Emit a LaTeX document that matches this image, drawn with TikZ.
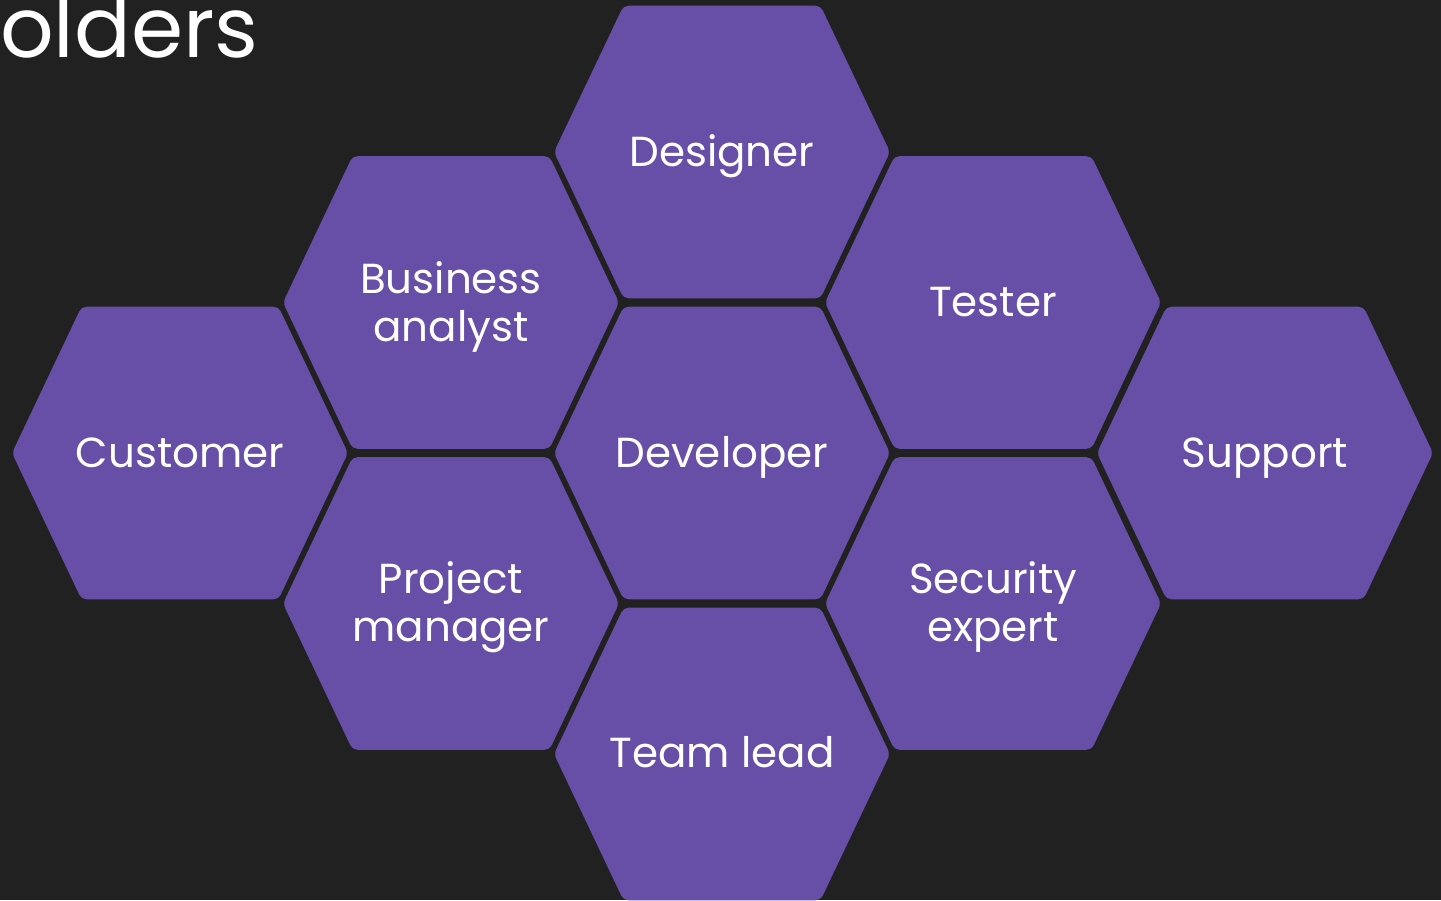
\documentclass[tikz,border=0pt]{standalone}
\usepackage{fontspec}
\setmainfont{Poppins}
\definecolor{bgc}{HTML}{212121}
\definecolor{hexc}{HTML}{674EA7}
\tikzset{
  hexcell/.style={fill=hexc, rounded corners=5pt},
  lbl/.style={text=white, font=\fontsize{42}{48}\selectfont, align=center, inner sep=0pt, anchor=base},
  ttl/.style={text=white, font=\fontsize{84}{90}\selectfont, inner sep=0pt, anchor=base west}
}
\newcommand\hexcellat[2]{%
  \fill[hexcell, shift={(#1,#2)}] (-168,0) -- (-98.5,-146.3) -- (98.5,-146.3) -- (168,0) -- (98.5,146.3) -- (-98.5,146.3) -- cycle;}
\begin{document}
\begin{tikzpicture}[x=1pt,y=-1pt]
\fill[bgc] (0,0) rectangle (1441,900);
\useasboundingbox (0,0) rectangle (1441,900);
\begin{scope}
\clip (0,0) rectangle (1441,900);
\node[ttl] (title) at (0,57) {olders};
\hexcellat{722}{152}
\hexcellat{451}{302.5}
\hexcellat{993}{302.5}
\hexcellat{180}{453}
\hexcellat{722}{453}
\hexcellat{1265}{453}
\hexcellat{451}{603.5}
\hexcellat{993}{603.5}
\hexcellat{722}{754}
\end{scope}
\node[lbl] (designer) at (722,166) {Designer};
\node[lbl] (ba) at (451,341) {Business\\analyst};
\node[lbl] (tester) at (993,316) {Tester};
\node[lbl] (customer) at (180,467) {Customer};
\node[lbl] (developer) at (722,467) {Developer};
\node[lbl] (support) at (1265,467) {Support};
\node[lbl] (pm) at (451,641) {Project\\manager};
\node[lbl] (sec) at (993,641) {Security\\expert};
\node[lbl] (teamlead) at (722,767) {Team lead};
\end{tikzpicture}
\end{document}
